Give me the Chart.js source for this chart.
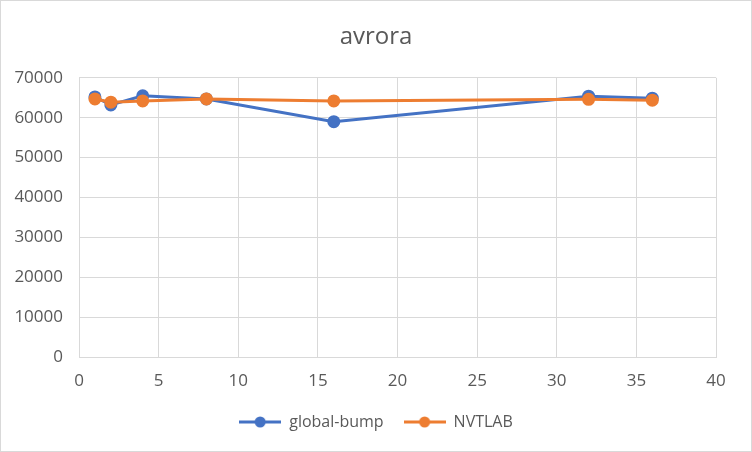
<!DOCTYPE html>
<html>
<head>
<meta charset="utf-8">
<script src="https://cdn.jsdelivr.net/npm/chart.js@4"></script>
<style>
  body { margin: 0; background: #fff; }
  #wrap { width: 752px; height: 452px; box-sizing: border-box; border: 1px solid #d9d9d9; }
  canvas { display: block; }
</style>
</head>
<body>
<div id="wrap"><canvas id="avroraChart" width="750" height="450"></canvas></div>
<script>
// --- data ---
const threads = [1, 2, 4, 8, 16, 32, 36];
const globalBump = [65200, 63200, 65500, 64700, 59000, 65400, 64900];
const nvtlab = [64700, 63900, 64200, 64700, 64200, 64600, 64400];
const xTicks = [0, 5, 10, 15, 20, 25, 30, 35, 40];
const yTicks = [0, 10000, 20000, 30000, 40000, 50000, 60000, 70000];

const BLUE = '#4472C4';
const ORANGE = '#ED7D31';
const TXT = '#595959';
const GRID = '#d9d9d9';
const FONT = "'Open Sans', 'Liberation Sans', sans-serif";

// legend marker: short line with a dot in the middle
function legendMarker(color) {
    const c = document.createElement('canvas');
    c.width = 42; c.height = 12;
    const g = c.getContext('2d');
    g.strokeStyle = color;
    g.lineWidth = 3;
    g.beginPath(); g.moveTo(0, 6); g.lineTo(42, 6); g.stroke();
    g.fillStyle = color;
    g.beginPath(); g.arc(21, 6, 5.5, 0, Math.PI * 2); g.fill();
    return c;
}

const toPoints = (ys) => threads.map((x, i) => ({ x: x, y: ys[i] }));

const ctx = document.getElementById('avroraChart');
new Chart(ctx, {
    type: 'scatter',
    data: {
        datasets: [{
            label: 'global-bump',
            data: toPoints(globalBump),
            borderColor: BLUE,
            backgroundColor: BLUE,
            showLine: true,
            borderWidth: 3,
            pointRadius: 5,
            order: 1
        }, {
            label: 'NVTLAB',
            data: toPoints(nvtlab),
            borderColor: ORANGE,
            backgroundColor: ORANGE,
            showLine: true,
            borderWidth: 3,
            pointRadius: 5,
            order: 0
        }]
    },
    options: {
        responsive: false,
        animation: false,
        layout: { padding: { left: 0, right: 0, top: 0, bottom: 11 } },
        plugins: {
            title: {
                display: true,
                text: 'avrora',
                color: TXT,
                font: { family: FONT, size: 24, weight: 'normal' },
                padding: { top: 22, bottom: 26 }
            },
            legend: {
                position: 'bottom',
                labels: {
                    color: TXT,
                    font: { family: FONT, size: 16 },
                    usePointStyle: true,
                    pointStyleWidth: 42,
                    boxHeight: 12,
                    padding: 20,
                    generateLabels: (chart) => chart.data.datasets.map((ds, i) => ({
                        text: ds.label,
                        fontColor: TXT,
                        pointStyle: legendMarker(ds.borderColor),
                        datasetIndex: i,
                        lineWidth: 0,
                        strokeStyle: 'transparent',
                        fillStyle: 'transparent'
                    }))
                }
            },
            tooltip: { enabled: false }
        },
        scales: {
            x: {
                type: 'linear',
                min: 0, max: 40,
                afterBuildTicks: (s) => { s.ticks = xTicks.map(v => ({ value: v })); },
                afterFit: (s) => { s.height = 37; },
                grid: { color: GRID, drawTicks: false },
                border: { color: GRID },
                ticks: { color: TXT, font: { family: FONT, size: 17 }, padding: 14 }
            },
            y: {
                min: 0, max: 70000,
                afterBuildTicks: (s) => { s.ticks = yTicks.map(v => ({ value: v })); },
                afterFit: (s) => { s.width = 78; },
                grid: { color: GRID, drawTicks: false },
                border: { color: GRID },
                ticks: {
                    color: TXT,
                    font: { family: FONT, size: 17 },
                    padding: 16,
                    callback: (v) => String(v)
                }
            },
            // empty right-hand axis: reserves the blank strip right of the plot
            spacer: {
                type: 'linear',
                position: 'right',
                min: 0, max: 1,
                afterFit: (s) => { s.width = 35; },
                grid: { display: false },
                border: { display: false },
                ticks: { display: false }
            }
        }
    }
});
</script>
</body>
</html>
